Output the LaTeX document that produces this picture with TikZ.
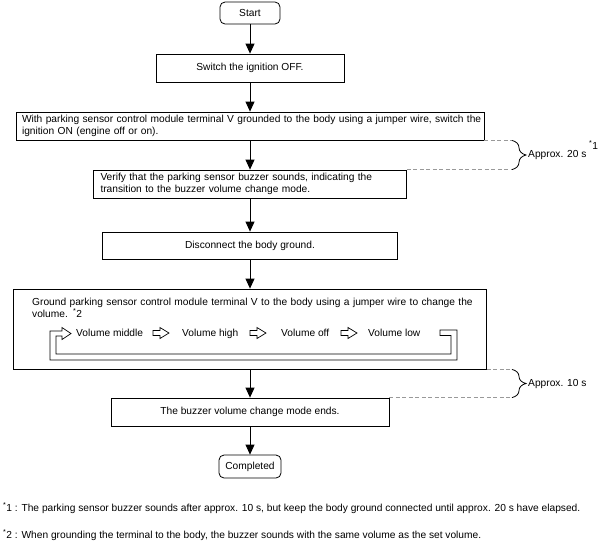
\documentclass[tikz,border=0pt]{standalone}
\usepackage{fontspec}
\setmainfont{Liberation Sans}
\usetikzlibrary{arrows.meta,decorations.pathreplacing}
\newcommand\flowfont{\fontsize{10.2}{12}\selectfont}
\newcommand\notefont{\fontsize{10.2}{12}\selectfont}
\begin{document}
\begin{tikzpicture}[x=1pt,y=-1pt,
  box/.style={draw, line width=0.8pt, inner sep=0pt, font=\flowfont},
  term/.style={box, rounded corners=5pt},
  flow/.style={line width=0.8pt, -{Triangle[length=10pt,width=9pt]}},
  dashline/.style={draw=gray!80, line width=0.8pt, dash pattern=on 4pt off 2.5pt},
  brc/.style={decorate, decoration={brace, amplitude=14pt}, line width=0.8pt},
  txt/.style={font=\flowfont, inner sep=0pt},
  note/.style={font=\notefont, inner sep=0pt},
  pipe/.style={draw, fill=white, line width=0.7pt},
  harrow/.pic={\draw[pipe] (0,-2.5) -- (7,-2.5) -- (7,-5.5) -- (16,0) -- (7,5.5) -- (7,2.5) -- (0,2.5) -- cycle;}
]
\useasboundingbox (0,0) rectangle (599,542);

\node[term, minimum width=60pt, minimum height=22pt] (start) at (250,13) {Start};
\node[box, minimum width=188pt, minimum height=28pt] (s1) at (250,68) {Switch the ignition OFF.};
\node[box, minimum width=468pt, minimum height=28pt, text width=456pt, align=left] (s2) at (250,126)
  {\mbox{With parking sensor control module terminal V grounded to the body using a jumper wire, switch the}\\\mbox{ignition ON (engine off or on).}};
\node[box, minimum width=313pt, minimum height=28pt, text width=299pt, align=left] (s3) at (250,184)
  {\mbox{Verify that the parking sensor buzzer sounds, indicating the}\\\mbox{transition to the buzzer volume change mode.}};
\node[box, minimum width=295pt, minimum height=27pt] (s4) at (250,245.5) {Disconnect the body ground.};
\node[box, minimum width=473pt, minimum height=80pt] (s5) at (250,329) {};
\node[box, minimum width=278pt, minimum height=28pt] (s6) at (250,412) {The buzzer volume change mode ends.};
\node[term, minimum width=62pt, minimum height=23pt] (end) at (250,466.5) {Completed};

% text inside box 5
\node[txt, anchor=base west, text width=450pt, align=left] (s5t) at (32,305.5)
  {\mbox{Ground parking sensor control module terminal V to the body using a jumper wire to change the}\\\mbox{volume. \textsuperscript{*}2}};

% volume cycle
\draw[pipe] (440,330) -- (457,330) -- (457,360) -- (50,360) -- (50,331) -- (62,331) -- (62,327.5)
  -- (71,333.5) -- (62,339.5) -- (62,336) -- (56,336) -- (56,354) -- (451,354) -- (451,335.5) -- (440,335.5) -- cycle;
\node[txt, anchor=base west] (v1) at (76,336) {Volume middle};
\node[txt, anchor=base west] (v2) at (182,336) {Volume high};
\node[txt, anchor=base west] (v3) at (281,336) {Volume off};
\node[txt, anchor=base west] (v4) at (368,336) {Volume low};
\pic at (153,333) {harrow};
\pic at (250,333) {harrow};
\pic at (341,333) {harrow};

% flow arrows
\draw[flow] (start) -- (s1);
\draw[flow] (s1) -- (s2);
\draw[flow] (s2) -- (s3);
\draw[flow] (s3) -- (s4);
\draw[flow] (s4) -- (s5);
\draw[flow] (s5) -- (s6);
\draw[flow] (s6) -- (end);

% timing braces
\coordinate (bx) at (512,0);
\draw[dashline] (s2.south east) -- (s2.south east -| bx) coordinate (b1t);
\draw[dashline] (s3.north east) -- (s3.north east -| bx) coordinate (b1b);
\draw[brc] (b1t) -- (b1b);
\node[txt, anchor=west] (a1) at (528,155) {Approx. 20 s};
\node[txt, anchor=west] (n1) at (589,145) {\textsuperscript{*}1};

\draw[dashline] (s5.south east) -- (s5.south east -| bx) coordinate (b2t);
\draw[dashline] (s6.north east) -- (s6.north east -| bx) coordinate (b2b);
\draw[brc] (b2t) -- (b2b);
\node[txt, anchor=west] (a2) at (528,384) {Approx. 10 s};

% footnotes
\node[note, anchor=base west] (f1) at (3,511.5) {\textsuperscript{*}1 : The parking sensor buzzer sounds after approx. 10 s, but keep the body ground connected until approx. 20 s have elapsed.};
\node[note, anchor=base west] (f2) at (3,538.5) {\textsuperscript{*}2 : When grounding the terminal to the body, the buzzer sounds with the same volume as the set volume.};
\end{tikzpicture}
\end{document}
